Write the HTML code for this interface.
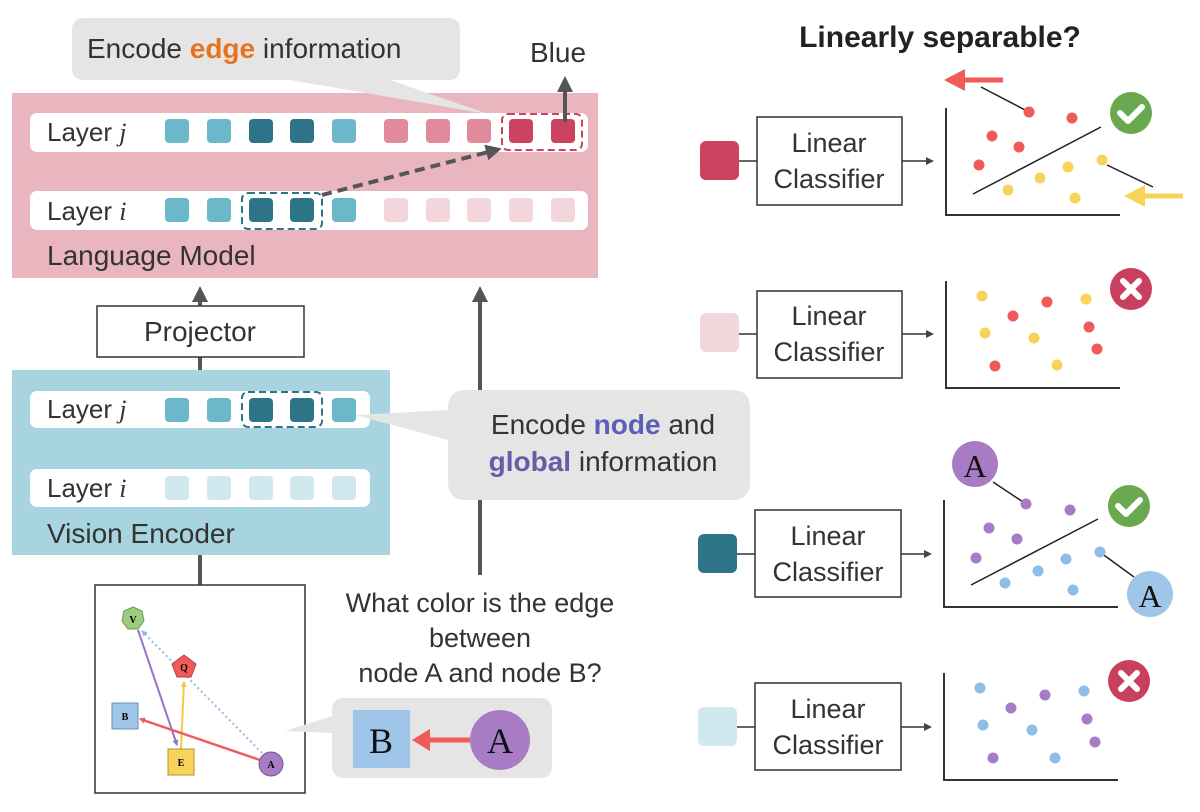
<!DOCTYPE html>
<html><head><meta charset="utf-8"><style>
html,body{margin:0;padding:0;background:#fff}
svg{display:block;font-family:"Liberation Sans",sans-serif}
.t{font-size:28px;fill:#333}
.lc{font-size:27px;fill:#333;text-anchor:middle}
</style></head><body>
<svg width="1200" height="812" viewBox="0 0 1200 812" xmlns="http://www.w3.org/2000/svg">
<defs>
<marker id="ah" markerWidth="8" markerHeight="8" refX="6" refY="4" orient="auto" markerUnits="userSpaceOnUse"><path d="M0,0 L8,4 L0,8 z" fill="#444"/></marker>
<marker id="ahb" markerWidth="16" markerHeight="16" refX="10" refY="8" orient="auto" markerUnits="userSpaceOnUse"><path d="M0,0 L16,8 L0,16 z" fill="#555"/></marker>
<marker id="sm" markerWidth="6" markerHeight="6" refX="5" refY="3" orient="auto" markerUnits="userSpaceOnUse"><path d="M0,0 L6,3 L0,6 z" fill="context-stroke"/></marker>
</defs>

<!-- Language Model -->
<rect x="12" y="93" width="586" height="185" fill="#e9b5bf"/>
<!-- Edge callout (over LM box) -->
<path d="M84,18 H448 Q460,18 460,30 V68 Q460,80 448,80 H390 L488,114 L290,80 H84 Q72,80 72,68 V30 Q72,18 84,18 Z" fill="#e5e5e5"/>
<text x="87" y="58" class="t">Encode <tspan fill="#e8731e" font-weight="bold">edge</tspan> information</text>
<text x="530" y="62" class="t">Blue</text>

<rect x="30" y="113" width="558" height="39" rx="7" fill="#fff"/>
<rect x="30" y="191" width="558" height="39" rx="7" fill="#fff"/>
<text x="47" y="141" class="t" style="font-size:26px">Layer <tspan font-style="italic" font-family="Liberation Serif">j</tspan></text>
<text x="47" y="220" class="t" style="font-size:26px">Layer <tspan font-style="italic" font-family="Liberation Serif">i</tspan></text>
<g>
<rect x="165" y="119" width="24" height="24" rx="4" fill="#6cb8cb"/>
<rect x="207" y="119" width="24" height="24" rx="4" fill="#6cb8cb"/>
<rect x="249" y="119" width="24" height="24" rx="4" fill="#2e7489"/>
<rect x="290" y="119" width="24" height="24" rx="4" fill="#2e7489"/>
<rect x="332" y="119" width="24" height="24" rx="4" fill="#6cb8cb"/>
<rect x="384" y="119" width="24" height="24" rx="4" fill="#e08a9c"/>
<rect x="426" y="119" width="24" height="24" rx="4" fill="#e08a9c"/>
<rect x="467" y="119" width="24" height="24" rx="4" fill="#e08a9c"/>
<rect x="509" y="119" width="24" height="24" rx="4" fill="#cc4361"/>
<rect x="551" y="119" width="24" height="24" rx="4" fill="#cc4361"/>
<rect x="165" y="198" width="24" height="24" rx="4" fill="#6cb8cb"/>
<rect x="207" y="198" width="24" height="24" rx="4" fill="#6cb8cb"/>
<rect x="249" y="198" width="24" height="24" rx="4" fill="#2e7489"/>
<rect x="290" y="198" width="24" height="24" rx="4" fill="#2e7489"/>
<rect x="332" y="198" width="24" height="24" rx="4" fill="#6cb8cb"/>
<rect x="384" y="198" width="24" height="24" rx="4" fill="#f3d5dc"/>
<rect x="426" y="198" width="24" height="24" rx="4" fill="#f3d5dc"/>
<rect x="467" y="198" width="24" height="24" rx="4" fill="#f3d5dc"/>
<rect x="509" y="198" width="24" height="24" rx="4" fill="#f3d5dc"/>
<rect x="551" y="198" width="24" height="24" rx="4" fill="#f3d5dc"/>
</g>
<rect x="502" y="114" width="80" height="36" rx="6" fill="none" stroke="#cc4361" stroke-width="2" stroke-dasharray="7,4"/>
<rect x="242" y="193" width="80" height="36" rx="6" fill="none" stroke="#2e7489" stroke-width="2" stroke-dasharray="7,4"/>
<line x1="322" y1="195" x2="496" y2="150" stroke="#555" stroke-width="4" stroke-dasharray="10,6" marker-end="url(#ahb)"/>
<line x1="565" y1="122" x2="565" y2="82" stroke="#555" stroke-width="4" marker-end="url(#ahb)"/>
<text x="47" y="265" class="t">Language Model</text>

<!-- arrows up -->
<line x1="200" y1="306" x2="200" y2="292" stroke="#555" stroke-width="4" marker-end="url(#ahb)"/>
<line x1="200" y1="357" x2="200" y2="370" stroke="#555" stroke-width="4"/>
<line x1="480" y1="575" x2="480" y2="292" stroke="#555" stroke-width="4" marker-end="url(#ahb)"/>
<rect x="97" y="306" width="207" height="51" fill="#fff" stroke="#333" stroke-width="1.5"/>
<text x="200" y="341" class="t" text-anchor="middle">Projector</text>

<!-- Vision Encoder -->
<rect x="12" y="370" width="378" height="185" fill="#a7d4df"/>
<rect x="30" y="391" width="340" height="37" rx="7" fill="#fff"/>
<rect x="30" y="469" width="340" height="38" rx="7" fill="#fff"/>
<text x="47" y="418" class="t" style="font-size:26px">Layer <tspan font-style="italic" font-family="Liberation Serif">j</tspan></text>
<text x="47" y="497" class="t" style="font-size:26px">Layer <tspan font-style="italic" font-family="Liberation Serif">i</tspan></text>
<rect x="165" y="398" width="24" height="24" rx="4" fill="#6cb8cb"/>
<rect x="207" y="398" width="24" height="24" rx="4" fill="#6cb8cb"/>
<rect x="249" y="398" width="24" height="24" rx="4" fill="#2e7489"/>
<rect x="290" y="398" width="24" height="24" rx="4" fill="#2e7489"/>
<rect x="332" y="398" width="24" height="24" rx="4" fill="#6cb8cb"/>
<rect x="242" y="392" width="80" height="35" rx="6" fill="none" stroke="#2e7489" stroke-width="2" stroke-dasharray="7,4"/>
<rect x="165" y="476" width="24" height="24" rx="4" fill="#d0e8ee"/>
<rect x="207" y="476" width="24" height="24" rx="4" fill="#d0e8ee"/>
<rect x="249" y="476" width="24" height="24" rx="4" fill="#d0e8ee"/>
<rect x="290" y="476" width="24" height="24" rx="4" fill="#d0e8ee"/>
<rect x="332" y="476" width="24" height="24" rx="4" fill="#d0e8ee"/>
<text x="47" y="543" class="t">Vision Encoder</text>
<line x1="200" y1="555" x2="200" y2="585" stroke="#555" stroke-width="4"/>

<!-- node callout -->
<path d="M466,390 H732 Q750,390 750,408 V482 Q750,500 732,500 H466 Q448,500 448,482 V440 L355,415 L448,410 V408 Q448,390 466,390 Z" fill="#e5e5e5"/>
<text x="603" y="434" class="t" text-anchor="middle">Encode <tspan fill="#5a5fb8" font-weight="bold">node</tspan> and</text>
<text x="603" y="471" class="t" text-anchor="middle"><tspan fill="#6b5aa8" font-weight="bold">global</tspan> information</text>

<!-- graph -->
<rect x="95" y="585" width="210" height="208" fill="#fff" stroke="#333" stroke-width="1.5"/>
<line x1="262" y1="753" x2="142" y2="631" stroke="#8fbde6" stroke-width="2" stroke-dasharray="2,3" marker-end="url(#sm)"/>
<line x1="138" y1="630" x2="177" y2="745" stroke="#9b72c0" stroke-width="2" marker-end="url(#sm)"/>
<line x1="181" y1="749" x2="184" y2="682" stroke="#f5c842" stroke-width="2" marker-end="url(#sm)"/>
<line x1="260" y1="760" x2="140" y2="719" stroke="#f05a5a" stroke-width="2.5" marker-end="url(#sm)"/>
<polygon points="133,607 142,611 144,621 138,629 128,629 122,621 124,611" fill="#9ccc7f" stroke="#6a9a55"/>
<text x="133" y="623" font-size="10" font-weight="bold" font-family="Liberation Serif" text-anchor="middle">V</text>
<polygon points="184,655 196,664 191,677 177,677 172,664" fill="#f05a5a" stroke="#b04040"/>
<text x="184" y="671" font-size="10" font-weight="bold" font-family="Liberation Serif" text-anchor="middle">Q</text>
<rect x="112" y="703" width="26" height="26" fill="#9fc5e8" stroke="#6a8fb0"/>
<text x="125" y="720" font-size="10" font-weight="bold" font-family="Liberation Serif" text-anchor="middle">B</text>
<rect x="168" y="749" width="26" height="26" fill="#f7d35c" stroke="#b0962e"/>
<text x="181" y="766" font-size="10" font-weight="bold" font-family="Liberation Serif" text-anchor="middle">E</text>
<circle cx="271" cy="764" r="12" fill="#a77cc4" stroke="#7a5898"/>
<text x="271" y="768" font-size="10" font-weight="bold" font-family="Liberation Serif" text-anchor="middle">A</text>

<!-- question -->
<text x="480" y="612" class="t" text-anchor="middle" style="font-size:27px">What color is the edge</text>
<text x="480" y="647" class="t" text-anchor="middle" style="font-size:27px">between</text>
<text x="480" y="682" class="t" text-anchor="middle" style="font-size:27px">node A and node B?</text>

<path d="M345,698 H540 Q552,698 552,710 V766 Q552,778 540,778 H345 Q332,778 332,766 V733 L285,731 L332,716 V710 Q332,698 345,698 Z" fill="#e5e5e5"/>
<rect x="353" y="710" width="57" height="58" fill="#9fc5e8"/>
<text x="381" y="753" font-size="36" font-family="Liberation Serif" text-anchor="middle" fill="#111">B</text>
<line x1="470" y1="740" x2="428" y2="740" stroke="#f05a5a" stroke-width="5"/>
<polygon points="412,740 430,729 430,751" fill="#f05a5a"/>
<circle cx="500" cy="740" r="30" fill="#a77cc4"/>
<text x="500" y="753" font-size="36" font-family="Liberation Serif" text-anchor="middle" fill="#111">A</text>

<!-- right title -->
<text x="940" y="47" font-size="30" font-weight="bold" fill="#222" text-anchor="middle">Linearly separable?</text>

<!-- panels -->
<g id="p1">
<rect x="700" y="141" width="39" height="39" rx="6" fill="#cc4361"/>
<line x1="739" y1="161" x2="757" y2="161" stroke="#333" stroke-width="1.5"/>
<rect x="757" y="117" width="145" height="88" fill="#fff" stroke="#333" stroke-width="1.5"/>
<text x="829" y="152" class="lc">Linear</text>
<text x="829" y="188" class="lc">Classifier</text>
<line x1="902" y1="161" x2="932" y2="161" stroke="#333" stroke-width="1.5" marker-end="url(#ah)"/>
<polyline points="946,108 946,215 1120,215" fill="none" stroke="#333" stroke-width="2"/>
</g>
<g>
<rect x="700" y="313" width="39" height="39" rx="6" fill="#f3d5dc"/>
<line x1="739" y1="334" x2="757" y2="334" stroke="#333" stroke-width="1.5"/>
<rect x="757" y="291" width="145" height="87" fill="#fff" stroke="#333" stroke-width="1.5"/>
<text x="829" y="325" class="lc">Linear</text>
<text x="829" y="361" class="lc">Classifier</text>
<line x1="902" y1="334" x2="932" y2="334" stroke="#333" stroke-width="1.5" marker-end="url(#ah)"/>
<polyline points="946,281 946,388 1120,388" fill="none" stroke="#333" stroke-width="2"/>
</g>
<g>
<rect x="698" y="534" width="39" height="39" rx="6" fill="#2e7489"/>
<line x1="737" y1="554" x2="755" y2="554" stroke="#333" stroke-width="1.5"/>
<rect x="755" y="510" width="146" height="87" fill="#fff" stroke="#333" stroke-width="1.5"/>
<text x="828" y="545" class="lc">Linear</text>
<text x="828" y="581" class="lc">Classifier</text>
<line x1="901" y1="554" x2="930" y2="554" stroke="#333" stroke-width="1.5" marker-end="url(#ah)"/>
<polyline points="944,500 944,607 1118,607" fill="none" stroke="#333" stroke-width="2"/>
</g>
<g>
<rect x="698" y="707" width="39" height="39" rx="6" fill="#d0e8ee"/>
<line x1="737" y1="727" x2="755" y2="727" stroke="#333" stroke-width="1.5"/>
<rect x="755" y="683" width="146" height="87" fill="#fff" stroke="#333" stroke-width="1.5"/>
<text x="828" y="718" class="lc">Linear</text>
<text x="828" y="754" class="lc">Classifier</text>
<line x1="901" y1="727" x2="930" y2="727" stroke="#333" stroke-width="1.5" marker-end="url(#ah)"/>
<polyline points="944,673 944,780 1118,780" fill="none" stroke="#333" stroke-width="2"/>
</g>

<!-- panel 1 dots -->
<line x1="973" y1="194" x2="1101" y2="127" stroke="#222" stroke-width="1.5"/>
<line x1="981" y1="87" x2="1027" y2="111" stroke="#222" stroke-width="1.5"/>
<line x1="1107" y1="165" x2="1153" y2="187" stroke="#222" stroke-width="1.5"/>
<line x1="1003" y1="80" x2="960" y2="80" stroke="#f05a5a" stroke-width="5"/>
<polygon points="944,80 965,69 965,91" fill="#f05a5a"/>
<line x1="1183" y1="196" x2="1140" y2="196" stroke="#f7d35c" stroke-width="5"/>
<polygon points="1124,196 1145,185 1145,207" fill="#f7d35c"/>
<g fill="#f05a5a"><circle cx="1029" cy="112" r="5.5"/><circle cx="1072" cy="118" r="5.5"/><circle cx="992" cy="136" r="5.5"/><circle cx="1019" cy="147" r="5.5"/><circle cx="979" cy="165" r="5.5"/></g>
<g fill="#f7d35c"><circle cx="1008" cy="190" r="5.5"/><circle cx="1040" cy="178" r="5.5"/><circle cx="1068" cy="167" r="5.5"/><circle cx="1102" cy="160" r="5.5"/><circle cx="1075" cy="198" r="5.5"/></g>
<!-- panel 2 dots -->
<g fill="#f7d35c"><circle cx="982" cy="296" r="5.5"/><circle cx="985" cy="333" r="5.5"/><circle cx="1034" cy="338" r="5.5"/><circle cx="1086" cy="299" r="5.5"/><circle cx="1057" cy="365" r="5.5"/></g>
<g fill="#f05a5a"><circle cx="1047" cy="302" r="5.5"/><circle cx="1013" cy="316" r="5.5"/><circle cx="1089" cy="327" r="5.5"/><circle cx="1097" cy="349" r="5.5"/><circle cx="995" cy="366" r="5.5"/></g>
<!-- panel 3 -->
<line x1="971" y1="585" x2="1098" y2="519" stroke="#222" stroke-width="1.5"/>
<line x1="993" y1="482" x2="1026" y2="504" stroke="#222" stroke-width="1.5"/>
<line x1="1101" y1="553" x2="1134" y2="577" stroke="#222" stroke-width="1.5"/>
<g fill="#a77cc4"><circle cx="1026" cy="504" r="5.5"/><circle cx="1070" cy="510" r="5.5"/><circle cx="989" cy="528" r="5.5"/><circle cx="1017" cy="539" r="5.5"/><circle cx="976" cy="558" r="5.5"/></g>
<g fill="#8fbde6"><circle cx="1005" cy="583" r="5.5"/><circle cx="1038" cy="571" r="5.5"/><circle cx="1066" cy="559" r="5.5"/><circle cx="1100" cy="552" r="5.5"/><circle cx="1073" cy="590" r="5.5"/></g>
<circle cx="975" cy="464" r="23" fill="#a77cc4"/>
<text x="975" y="477" font-size="32" font-family="Liberation Serif" text-anchor="middle" fill="#111">A</text>
<circle cx="1150" cy="594" r="23" fill="#9fc5e8"/>
<text x="1150" y="607" font-size="32" font-family="Liberation Serif" text-anchor="middle" fill="#111">A</text>
<!-- panel 4 -->
<g fill="#8fbde6"><circle cx="980" cy="688" r="5.5"/><circle cx="983" cy="725" r="5.5"/><circle cx="1032" cy="730" r="5.5"/><circle cx="1084" cy="691" r="5.5"/><circle cx="1055" cy="758" r="5.5"/></g>
<g fill="#a77cc4"><circle cx="1045" cy="695" r="5.5"/><circle cx="1011" cy="708" r="5.5"/><circle cx="1087" cy="719" r="5.5"/><circle cx="1095" cy="742" r="5.5"/><circle cx="993" cy="758" r="5.5"/></g>

<!-- icons -->
<g><circle cx="1131" cy="113" r="21" fill="#6aa84f"/><path d="M1120,113 l8,8 l14,-14" fill="none" stroke="#fff" stroke-width="6" stroke-linecap="round" stroke-linejoin="round"/></g>
<g><circle cx="1131" cy="289" r="21" fill="#c9405e"/><path d="M1123,281 l16,16 M1139,281 l-16,16" stroke="#fff" stroke-width="6" stroke-linecap="round"/></g>
<g><circle cx="1129" cy="506" r="21" fill="#6aa84f"/><path d="M1118,506 l8,8 l14,-14" fill="none" stroke="#fff" stroke-width="6" stroke-linecap="round" stroke-linejoin="round"/></g>
<g><circle cx="1129" cy="681" r="21" fill="#c9405e"/><path d="M1121,673 l16,16 M1137,673 l-16,16" stroke="#fff" stroke-width="6" stroke-linecap="round"/></g>
</svg>
</body></html>
